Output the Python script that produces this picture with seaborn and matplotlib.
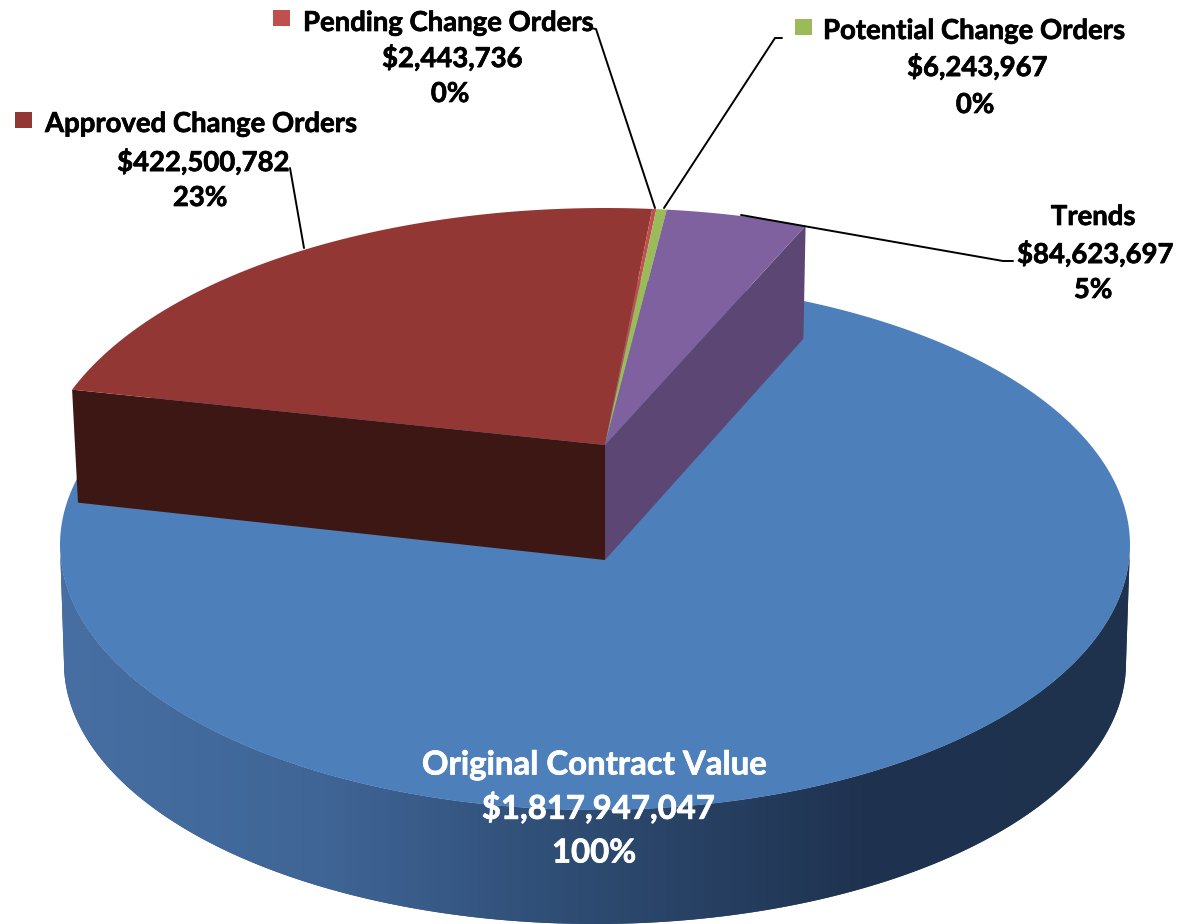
import numpy as np
import seaborn as sns
import matplotlib.pyplot as plt
import matplotlib.patheffects as pe
from matplotlib.patches import Rectangle

# Chart values
categories = ["Original Contract Value", "Approved Change Orders", "Pending Change Orders",
              "Potential Change Orders", "Trends"]
values = [1817947047, 422500782, 2443736, 6243967, 84623697]
colors = ["#4d7fbb", "#933735", "#c0504d", "#9bbb59", "#7f619f"]

sns.set_theme(style="white")
plt.rcParams['font.family'] = ['Lato', 'DejaVu Sans']

fig = plt.figure(figsize=(11.77, 9.24), dpi=100)
ax = fig.add_axes([0, 0, 1, 1])


# the small slices are raised above the full disc, with some perspective
def raised_arc(start, end, n=120):
    t = np.radians(np.linspace(start, end, n))
    sx = 1 / (1 + 0.155 * np.sin(t))
    sy = 1 / (1 + 0.173 * np.sin(t))
    return 605 + 562 * np.cos(t) * sx, 445 - 278 * np.sin(t) * sy


def dropped(x, y):
    return 605 + (x - 605) * 0.989, y + 113


# Disc side with the left to right shading
t = np.radians(np.linspace(180, 360, 300))
side_x = np.r_[595 + 535 * np.cos(t), (595 + 531 * np.cos(t))[::-1]]
side_y = np.r_[545 - 265 * np.sin(t), (663 - 261 * np.sin(t))[::-1]]
side_poly = ax.fill(side_x, side_y, color="#2d4a6f", lw=0, zorder=1)[0]
ramp = sns.blend_palette(["#476fa3", "#3f6596", "#2d4a70", "#1f3350", "#1e324e"], 256)
img = ax.imshow(np.array(ramp)[None, :, :], extent=(60, 1130, 924, 540), aspect="auto", zorder=1.5)
img.set_clip_path(side_poly)

# Disc top
t = np.radians(np.linspace(0, 360, 500))
ax.fill(595 + 535 * np.cos(t), 545 - 265 * np.sin(t), color=colors[0], lw=0, zorder=2)

# Slices are sized against the original contract value
angle = 168.1
sweeps = [v / values[0] * 360 for v in values[1:]]
tops = []
for sweep, color in zip(sweeps, colors[1:]):
    x, y = raised_arc(angle, angle - sweep)
    tops.append((np.r_[605, x], np.r_[445, y], color))
    angle -= sweep

# Cut faces
x0, y0 = raised_arc(168.1, 168.1, 1)
bx0, by0 = dropped(x0, y0)
ax.fill(np.r_[x0, 605, 605, bx0], np.r_[y0, 445, 560, by0], color="#3c1714", lw=0, zorder=3)
x1, y1 = raised_arc(angle, angle, 1)
bx1, by1 = dropped(x1, y1)
ax.fill(np.r_[605, x1, bx1, 605], np.r_[445, y1, by1, 560], color="#5b4674", lw=0, zorder=3)

for x, y, color in tops:
    ax.fill(x, y, color=color, lw=0, zorder=4)

# Leader lines
leaders = [
    ([290, 304], [168, 248]),
    ([590, 596, 655], [28, 29, 208]),
    ([782, 775, 664], [38, 38, 208]),
    ([741, 1003, 1013], [215, 261, 261]),
]
for lx, ly in leaders:
    ax.plot(lx, ly, color="black", lw=1.4, zorder=5)

# Legend keys
ax.add_patch(Rectangle((15, 112), 17, 16, color=colors[1], lw=0, zorder=5))
ax.add_patch(Rectangle((273, 10), 17, 16, color=colors[2], lw=0, zorder=5))
ax.add_patch(Rectangle((795, 19), 17, 16, color=colors[3], lw=0, zorder=5))


def pct(v):
    return f"{v / values[0] * 100:.0f}%"


def label(x, y, s, ha="center", size=19.8, color="black"):
    # a thin stroke because the original text is heavier than Lato Bold
    ax.text(x, y, s, ha=ha, va="center", fontsize=size, fontweight="bold", color=color, zorder=6,
            path_effects=[pe.withStroke(linewidth=0.5, foreground=color)])


# Labels
for i, (nx, ny, ha, vx, vy, px, py) in {
    1: (45, 124, "left", 203, 162, 200, 198),
    2: (303, 23, "left", 452, 58, 450, 94),
    3: (823, 31, "left", 977, 67, 975, 105),
    4: (1093, 217, "center", 1095, 254, 1093, 290),
}.items():
    label(nx, ny, categories[i], ha=ha)
    label(vx, vy, f"${values[i]:,}")
    label(px, py, pct(values[i]))

label(594, 765, categories[0], size=23.7, color="white")
label(598, 808, f"${values[0]:,}", size=23.7, color="white")
label(594, 853, pct(values[0]), size=23.7, color="white")

ax.set_xlim(0, 1177)
ax.set_ylim(924, 0)
ax.axis("off")
fig.savefig("out.png", dpi=100)
